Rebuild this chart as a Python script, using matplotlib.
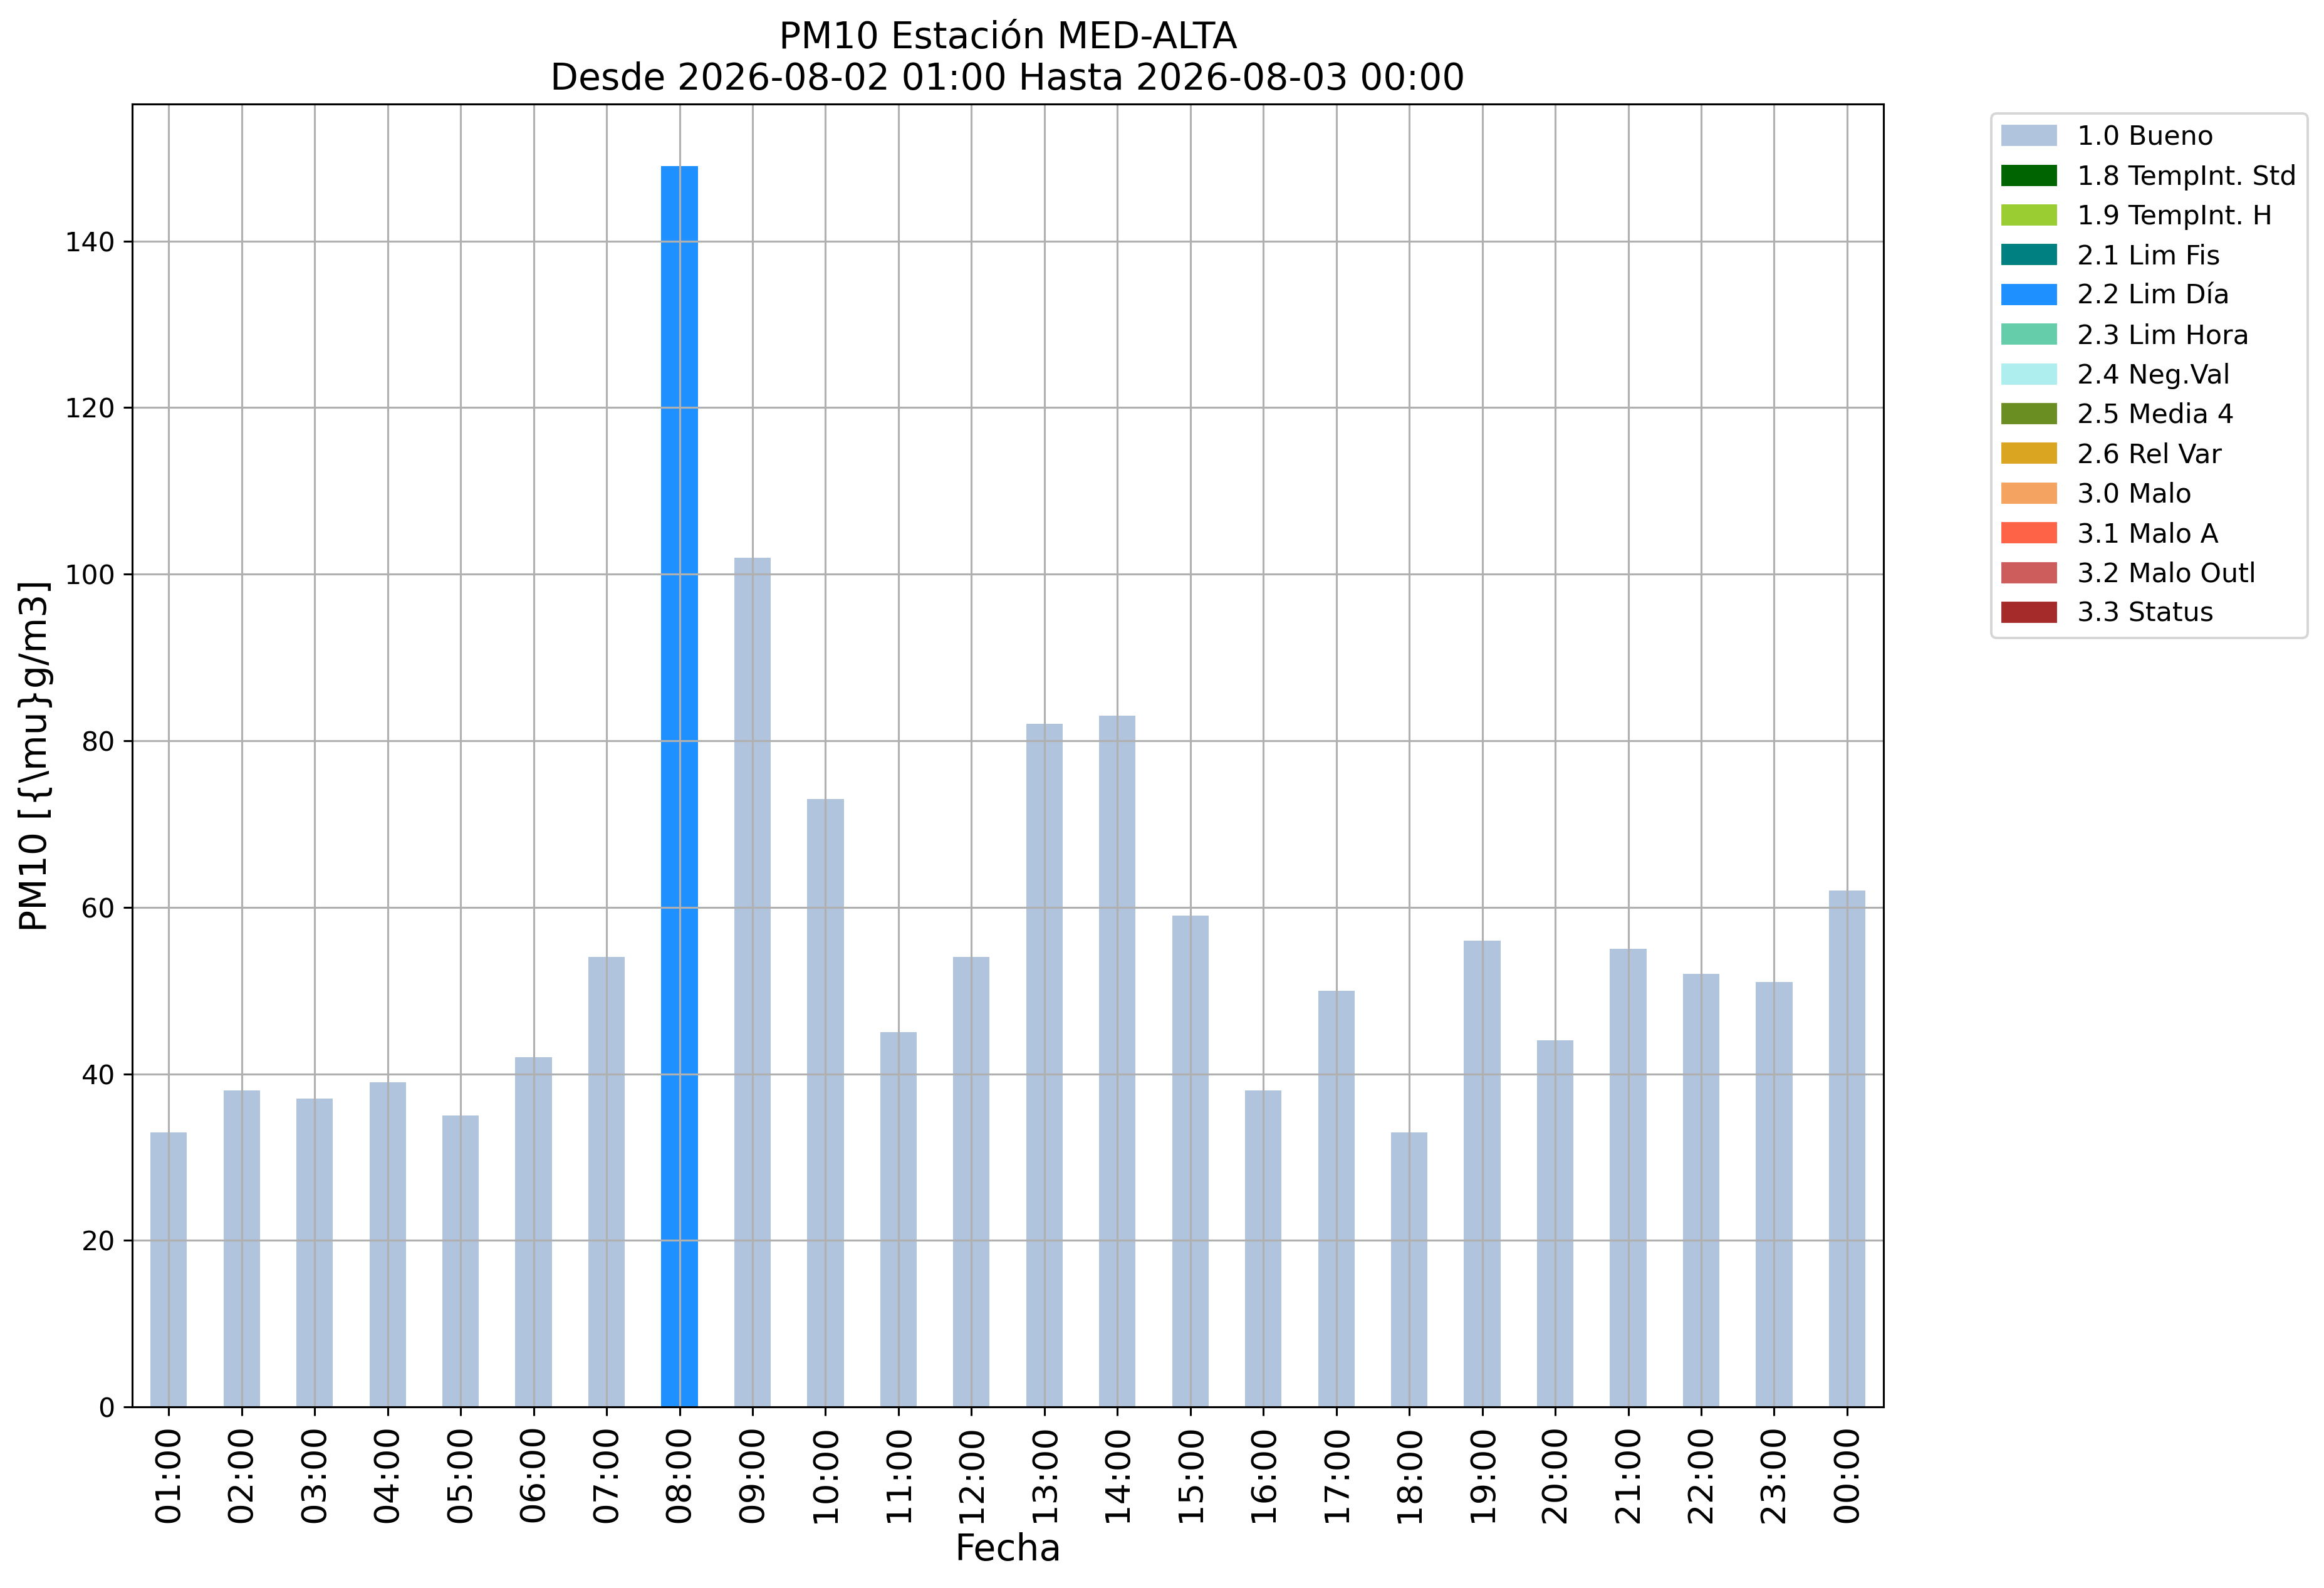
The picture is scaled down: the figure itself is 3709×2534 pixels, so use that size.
import matplotlib
matplotlib.use("Agg")
import matplotlib.pyplot as plt
from matplotlib.patches import Patch

horas = ['01:00', '02:00', '03:00', '04:00', '05:00', '06:00', '07:00', '08:00',
         '09:00', '10:00', '11:00', '12:00', '13:00', '14:00', '15:00', '16:00',
         '17:00', '18:00', '19:00', '20:00', '21:00', '22:00', '23:00', '00:00']
pm10 = [33, 38, 37, 39, 35, 42, 54, 149, 102, 73, 45, 54,
        82, 83, 59, 38, 50, 33, 56, 44, 55, 52, 51, 62]
flags = ['1.0'] * 7 + ['2.2'] + ['1.0'] * 16

flag_codes = ['1.0', '1.8', '1.9', '2.1', '2.2', '2.3', '2.4',
              '2.5', '2.6', '3.0', '3.1', '3.2', '3.3']
flag_names = ['Bueno', 'TempInt. Std', 'TempInt. H', 'Lim Fis', 'Lim Día',
              'Lim Hora', 'Neg.Val', 'Media 4', 'Rel Var', 'Malo', 'Malo A',
              'Malo Outl', 'Status']
flag_colors = ['lightsteelblue', 'darkgreen', 'yellowgreen', 'teal', 'dodgerblue',
               'mediumaquamarine', 'paleturquoise', 'olivedrab', 'goldenrod',
               'sandybrown', 'tomato', 'indianred', 'brown']
color_of = dict(zip(flag_codes, flag_colors))

dpi = 280
fig = plt.figure(figsize=(3709 / dpi, 2534 / dpi), dpi=dpi)
ax = fig.add_axes([0.0569, 0.114, 0.8105 - 0.0569, 0.9345 - 0.114])

x = range(len(horas))
ax.bar(x, pm10, width=0.5, color=[color_of[f] for f in flags])
ax.set_xlim(-0.5, len(horas) - 0.5)
ax.set_xticks(list(x))
ax.set_xticklabels(horas, rotation=90, fontsize=14)
ax.tick_params(axis='y', labelsize=11)
ax.grid(True)

ax.set_title('PM10 Estación MED-ALTA\nDesde 2026-08-02 01:00 Hasta 2026-08-03 00:00',
             fontsize=15)
ax.set_xlabel('Fecha', fontsize=15)
ax.set_ylabel(r'PM10 [{\mu}g/m3]', fontsize=15)

handles = [Patch(color=c, label=f'{k} {n}')
           for k, n, c in zip(flag_codes, flag_names, flag_colors)]
ax.legend(handles=handles, bbox_to_anchor=(1.054, 1.003), loc='upper left', fontsize=11)

fig.savefig('out.png', dpi=dpi)
